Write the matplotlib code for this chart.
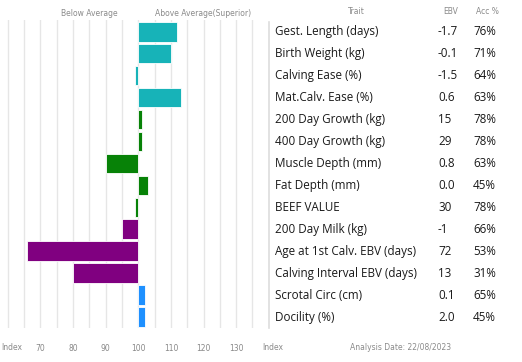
import matplotlib
matplotlib.use("Agg")
import matplotlib.pyplot as plt
from matplotlib.transforms import blended_transform_factory
import numpy as np

traits = ["Gest. Length (days)", "Birth Weight (kg)", "Calving Ease (%)", "Mat.Calv. Ease (%)",
          "200 Day Growth (kg)", "400 Day Growth (kg)", "Muscle Depth (mm)", "Fat Depth (mm)",
          "BEEF VALUE", "200 Day Milk (kg)", "Age at 1st Calv. EBV (days)",
          "Calving Interval EBV (days)", "Scrotal Circ (cm)", "Docility (%)"]
ebv = ["-1.7", "-0.1", "-1.5", "0.6", "15", "29", "0.8", "0.0", "30", "-1", "72", "13", "0.1", "2.0"]
acc = ["76%", "71%", "64%", "63%", "78%", "78%", "63%", "45%", "78%", "66%", "53%", "31%", "65%", "45%"]
index_vals = [112, 110, 99, 113, 101, 101, 90, 103, 99, 95, 66, 80, 102, 102]
groups = ["calving"] * 4 + ["growth"] * 5 + ["maternal"] * 3 + ["other"] * 2
group_colors = {"calving": "#17b3b8", "growth": "#078207", "maternal": "#800080", "other": "#1e90ff"}
tick_vals = [70, 80, 90, 100, 110, 120, 130]

W, H = 522, 362
fig = plt.figure(figsize=(W / 100, H / 100), dpi=100)

def fx(px):
    return px / W

def fy(py):
    return 1 - py / H

# bar axes
ax = fig.add_axes([0, fy(328), fx(262), (328 - 20) / H])
ypos = np.arange(len(traits))
base = 100
ax.barh(ypos, [v - base for v in index_vals], left=base, height=0.9,
        color=[group_colors[g] for g in groups], edgecolor="white", linewidth=0.6, zorder=3)
ax.set_xlim(57.58, 137.94)
ax.set_ylim(13.49, -0.53)
ax.set_xticks(np.arange(60, 136, 5), minor=True)
ax.set_xticks(tick_vals, [str(t) for t in tick_vals])
ax.grid(which="both", axis="x", color="#e6e6e6", linewidth=1.0, zorder=0)
ax.tick_params(axis="x", which="both", length=0, pad=11.5, labelsize=5.5, labelcolor="#888888")
ax.tick_params(axis="y", left=False, labelleft=False)
for s in ax.spines.values():
    s.set_visible(False)

small = dict(fontsize=5.5, color="#8a8a8a", family="DejaVu Sans", va="center")
fig.text(fx(89), fy(13), "Below Average", ha="center", **small)
fig.text(fx(203), fy(13), "Above Average(Superior)", ha="center", **small)
fig.text(fx(1), fy(348), "Index", ha="left", **small)
fig.text(fx(262), fy(348), "Index", ha="left", **small)
fig.text(fx(401), fy(348), "Analysis Date: 22/08/2023", ha="center", **small)

fig.text(fx(356), fy(12), "Trait", ha="center", **small)
fig.text(fx(451), fy(12), "EBV", ha="center", **small)
fig.text(fx(487), fy(12), "Acc %", ha="center", **small)

# table divider
fig.add_artist(plt.Line2D([fx(269), fx(269)], [fy(22), fy(328)], color="#dddddd", linewidth=1.2))

big = dict(fontsize=8.4, color="#1a1a1a", family="Open Sans", va="center")
trans = blended_transform_factory(fig.transFigure, ax.transData)
for i in range(len(traits)):
    fig.text(fx(275), i, traits[i], ha="left", transform=trans, **big)
    fig.text(fx(438), i, ebv[i], ha="left", transform=trans, **big)
    fig.text(fx(473), i, acc[i], ha="left", transform=trans, **big)

fig.savefig("out.png", dpi=100, facecolor="white")
